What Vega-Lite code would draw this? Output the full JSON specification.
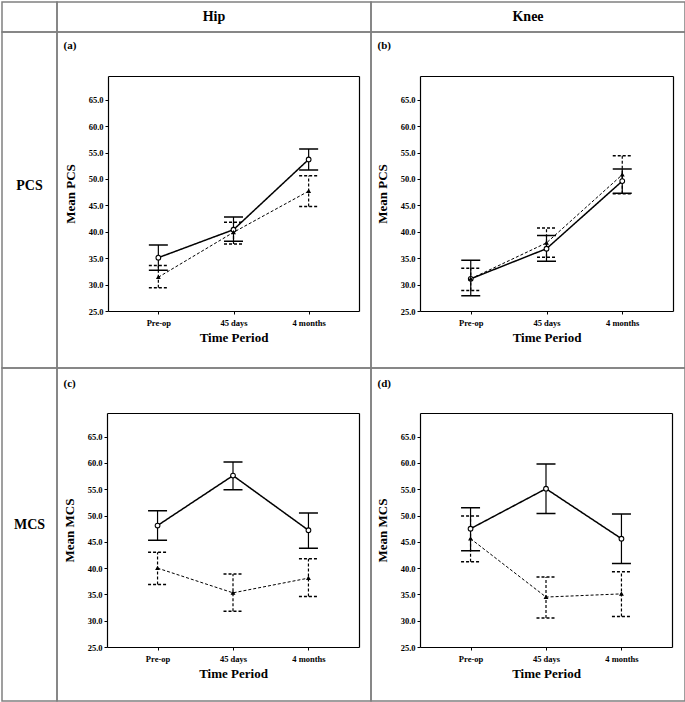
{
  "$schema": "https://vega.github.io/schema/vega-lite/v6.json",
  "padding": {"left": 1, "top": 1, "right": 0, "bottom": 0},
  "background": "white",
  "datasets": {
    "v": [
      {"panel": "a", "time": "Pre-op", "series": "s", "mean": 35.1, "lo": 32.7, "hi": 37.5},
      {"panel": "a", "time": "45 days", "series": "s", "mean": 40.4, "lo": 38.2, "hi": 42.8},
      {"panel": "a", "time": "4 months", "series": "s", "mean": 53.7, "lo": 51.7, "hi": 55.7},
      {"panel": "a", "time": "Pre-op", "series": "d", "mean": 31.4, "lo": 29.4, "hi": 33.6},
      {"panel": "a", "time": "45 days", "series": "d", "mean": 39.9, "lo": 37.7, "hi": 41.8},
      {"panel": "a", "time": "4 months", "series": "d", "mean": 47.7, "lo": 44.8, "hi": 50.6},
      {"panel": "b", "time": "Pre-op", "series": "s", "mean": 31.1, "lo": 27.9, "hi": 34.6},
      {"panel": "b", "time": "45 days", "series": "s", "mean": 36.8, "lo": 34.4, "hi": 39.3},
      {"panel": "b", "time": "4 months", "series": "s", "mean": 49.6, "lo": 47.3, "hi": 51.9},
      {"panel": "b", "time": "Pre-op", "series": "d", "mean": 31.1, "lo": 28.9, "hi": 33.1},
      {"panel": "b", "time": "45 days", "series": "d", "mean": 37.9, "lo": 35.2, "hi": 40.7},
      {"panel": "b", "time": "4 months", "series": "d", "mean": 50.8, "lo": 47.2, "hi": 54.4},
      {"panel": "c", "time": "Pre-op", "series": "s", "mean": 48.1, "lo": 45.3, "hi": 50.9},
      {"panel": "c", "time": "45 days", "series": "s", "mean": 57.6, "lo": 54.9, "hi": 60.2},
      {"panel": "c", "time": "4 months", "series": "s", "mean": 47.2, "lo": 43.8, "hi": 50.5},
      {"panel": "c", "time": "Pre-op", "series": "d", "mean": 40.0, "lo": 36.9, "hi": 43.0},
      {"panel": "c", "time": "45 days", "series": "d", "mean": 35.3, "lo": 31.8, "hi": 38.9},
      {"panel": "c", "time": "4 months", "series": "d", "mean": 38.1, "lo": 34.6, "hi": 41.8},
      {"panel": "d", "time": "Pre-op", "series": "s", "mean": 47.5, "lo": 43.3, "hi": 51.5},
      {"panel": "d", "time": "45 days", "series": "s", "mean": 55.1, "lo": 50.4, "hi": 59.8},
      {"panel": "d", "time": "4 months", "series": "s", "mean": 45.6, "lo": 40.9, "hi": 50.3},
      {"panel": "d", "time": "Pre-op", "series": "d", "mean": 45.6, "lo": 41.2, "hi": 49.9},
      {"panel": "d", "time": "45 days", "series": "d", "mean": 34.5, "lo": 30.5, "hi": 38.3},
      {"panel": "d", "time": "4 months", "series": "d", "mean": 35.1, "lo": 30.8, "hi": 39.3}
    ]
  },
  "columns": 3,
  "spacing": 0,
  "bounds": "flush",
  "align": "each",
  "concat": [
    {"width": 55, "height": 30, "data": {"values": [{"t": ""}]}, "mark": {"type": "text"}, "encoding": {"x": {"field": "t", "type": "nominal", "axis": null}, "y": {"field": "t", "type": "nominal", "axis": null}, "text": {"field": "t"}}},
    {"width": 314, "height": 30, "data": {"values": [{"t": "Hip"}]}, "mark": {"type": "text", "font": "Liberation Serif", "fontWeight": "bold", "fontSize": 14, "color": "black"}, "encoding": {"x": {"field": "t", "type": "nominal", "axis": null}, "y": {"field": "t", "type": "nominal", "axis": null}, "text": {"field": "t"}}},
    {"width": 314, "height": 30, "data": {"values": [{"t": "Knee"}]}, "mark": {"type": "text", "font": "Liberation Serif", "fontWeight": "bold", "fontSize": 14, "color": "black"}, "encoding": {"x": {"field": "t", "type": "nominal", "axis": null}, "y": {"field": "t", "type": "nominal", "axis": null}, "text": {"field": "t"}}},
    {"width": 55, "height": 336, "data": {"values": [{"t": "PCS"}]}, "mark": {"type": "text", "font": "Liberation Serif", "fontWeight": "bold", "fontSize": 14, "color": "black", "dy": -14}, "encoding": {"x": {"field": "t", "type": "nominal", "axis": null}, "y": {"field": "t", "type": "nominal", "axis": null}, "text": {"field": "t"}}},
    {
      "width": 314, "height": 336,
      "data": {"name": "v"},
      "transform": [{"filter": "datum.panel == 'a'"}],
      "resolve": {"axis": {"x": "independent", "y": "independent"}},
      "layer": [
        {"mark": {"type": "rule", "color": "black", "strokeWidth": 1.2},
         "encoding": {
           "x": {"field": "time", "type": "ordinal", "scale": {"type": "point", "domain": ["Pre-op", "45 days", "4 months"], "range": [51, 302], "padding": 0.67}, "axis": {"orient": "bottom", "offset": -57, "title": "Time Period", "labelAngle": 0, "labelPadding": 4, "titlePadding": 5}},
           "y": {"field": "lo", "type": "quantitative", "scale": {"domain": [25, 69.5], "range": [279, 44], "nice": false, "zero": false}, "axis": {"orient": "left", "offset": -51, "values": [25, 30, 35, 40, 45, 50, 55, 60, 65], "format": ".1f", "title": "Mean PCS", "titlePadding": 11}},
           "y2": {"field": "hi"},
           "strokeDash": {"field": "series", "type": "nominal", "scale": {"domain": ["s", "d"], "range": [[1, 0], [3, 2]]}, "legend": null}}},
        {"mark": {"type": "point", "shape": "M-1,0L1,0", "size": 361, "strokeWidth": 1.5, "color": "black", "filled": false, "opacity": 1},
         "encoding": {
           "x": {"field": "time", "type": "ordinal", "axis": {"orient": "top", "offset": -44, "ticks": false, "labels": false, "title": "(a)", "titleX": 6, "titleY": -31, "titleAlign": "left", "titleBaseline": "middle", "titleFontSize": 11, "titleAngle": 0}},
           "y": {"field": "hi", "type": "quantitative", "axis": {"orient": "right", "offset": -12, "ticks": false, "labels": false, "title": null}},
           "strokeDash": {"field": "series", "type": "nominal", "legend": null}}},
        {"mark": {"type": "point", "shape": "M-1,0L1,0", "size": 361, "strokeWidth": 1.5, "color": "black", "filled": false, "opacity": 1},
         "encoding": {
           "x": {"field": "time", "type": "ordinal", "axis": null},
           "y": {"field": "lo", "type": "quantitative", "axis": null},
           "strokeDash": {"field": "series", "type": "nominal", "legend": null}}},
        {"mark": {"type": "line", "color": "black"},
         "encoding": {
           "x": {"field": "time", "type": "ordinal", "sort": ["Pre-op", "45 days", "4 months"], "axis": null},
           "y": {"field": "mean", "type": "quantitative", "axis": null},
           "strokeDash": {"field": "series", "type": "nominal", "legend": null},
           "strokeWidth": {"field": "series", "type": "nominal", "scale": {"domain": ["s", "d"], "range": [1.5, 1]}, "legend": null}}},
        {"mark": {"type": "point", "filled": true, "stroke": "black", "strokeWidth": 1.1, "opacity": 1},
         "encoding": {
           "x": {"field": "time", "type": "ordinal", "axis": null},
           "y": {"field": "mean", "type": "quantitative", "axis": null},
           "shape": {"field": "series", "type": "nominal", "scale": {"domain": ["s", "d"], "range": ["circle", "triangle-up"]}, "legend": null},
           "fill": {"field": "series", "type": "nominal", "scale": {"domain": ["s", "d"], "range": ["white", "black"]}, "legend": null},
           "size": {"field": "series", "type": "nominal", "scale": {"domain": ["s", "d"], "range": [22, 9]}, "legend": null}}}
      ]
    },
    {
      "width": 314, "height": 336,
      "data": {"name": "v"},
      "transform": [{"filter": "datum.panel == 'b'"}],
      "resolve": {"axis": {"x": "independent", "y": "independent"}},
      "layer": [
        {"mark": {"type": "rule", "color": "black", "strokeWidth": 1.2},
         "encoding": {
           "x": {"field": "time", "type": "ordinal", "scale": {"type": "point", "domain": ["Pre-op", "45 days", "4 months"], "range": [49, 302], "padding": 0.67}, "axis": {"orient": "bottom", "offset": -57, "title": "Time Period", "labelAngle": 0, "labelPadding": 4, "titlePadding": 5}},
           "y": {"field": "lo", "type": "quantitative", "scale": {"domain": [25, 69.5], "range": [279, 44], "nice": false, "zero": false}, "axis": {"orient": "left", "offset": -49, "values": [25, 30, 35, 40, 45, 50, 55, 60, 65], "format": ".1f", "title": "Mean PCS", "titlePadding": 11}},
           "y2": {"field": "hi"},
           "strokeDash": {"field": "series", "type": "nominal", "scale": {"domain": ["s", "d"], "range": [[1, 0], [3, 2]]}, "legend": null}}},
        {"mark": {"type": "point", "shape": "M-1,0L1,0", "size": 361, "strokeWidth": 1.5, "color": "black", "filled": false, "opacity": 1},
         "encoding": {
           "x": {"field": "time", "type": "ordinal", "axis": {"orient": "top", "offset": -44, "ticks": false, "labels": false, "title": "(b)", "titleX": 6, "titleY": -31, "titleAlign": "left", "titleBaseline": "middle", "titleFontSize": 11, "titleAngle": 0}},
           "y": {"field": "hi", "type": "quantitative", "axis": {"orient": "right", "offset": -12, "ticks": false, "labels": false, "title": null}},
           "strokeDash": {"field": "series", "type": "nominal", "legend": null}}},
        {"mark": {"type": "point", "shape": "M-1,0L1,0", "size": 361, "strokeWidth": 1.5, "color": "black", "filled": false, "opacity": 1},
         "encoding": {
           "x": {"field": "time", "type": "ordinal", "axis": null},
           "y": {"field": "lo", "type": "quantitative", "axis": null},
           "strokeDash": {"field": "series", "type": "nominal", "legend": null}}},
        {"mark": {"type": "line", "color": "black"},
         "encoding": {
           "x": {"field": "time", "type": "ordinal", "sort": ["Pre-op", "45 days", "4 months"], "axis": null},
           "y": {"field": "mean", "type": "quantitative", "axis": null},
           "strokeDash": {"field": "series", "type": "nominal", "legend": null},
           "strokeWidth": {"field": "series", "type": "nominal", "scale": {"domain": ["s", "d"], "range": [1.5, 1]}, "legend": null}}},
        {"mark": {"type": "point", "filled": true, "stroke": "black", "strokeWidth": 1.1, "opacity": 1},
         "encoding": {
           "x": {"field": "time", "type": "ordinal", "axis": null},
           "y": {"field": "mean", "type": "quantitative", "axis": null},
           "shape": {"field": "series", "type": "nominal", "scale": {"domain": ["s", "d"], "range": ["circle", "triangle-up"]}, "legend": null},
           "fill": {"field": "series", "type": "nominal", "scale": {"domain": ["s", "d"], "range": ["white", "black"]}, "legend": null},
           "size": {"field": "series", "type": "nominal", "scale": {"domain": ["s", "d"], "range": [22, 9]}, "legend": null}}}
      ]
    },
    {"width": 55, "height": 333, "data": {"values": [{"t": "MCS"}]}, "mark": {"type": "text", "font": "Liberation Serif", "fontWeight": "bold", "fontSize": 14, "color": "black", "dy": -10}, "encoding": {"x": {"field": "t", "type": "nominal", "axis": null}, "y": {"field": "t", "type": "nominal", "axis": null}, "text": {"field": "t"}}},
    {
      "width": 314, "height": 333,
      "data": {"name": "v"},
      "transform": [{"filter": "datum.panel == 'c'"}],
      "resolve": {"axis": {"x": "independent", "y": "independent"}},
      "layer": [
        {"mark": {"type": "rule", "color": "black", "strokeWidth": 1.2},
         "encoding": {
           "x": {"field": "time", "type": "ordinal", "scale": {"type": "point", "domain": ["Pre-op", "45 days", "4 months"], "range": [50, 302], "padding": 0.67}, "axis": {"orient": "bottom", "offset": -54, "title": "Time Period", "labelAngle": 0, "labelPadding": 4, "titlePadding": 5}},
           "y": {"field": "lo", "type": "quantitative", "scale": {"domain": [25, 69.5], "range": [279, 45], "nice": false, "zero": false}, "axis": {"orient": "left", "offset": -50, "values": [25, 30, 35, 40, 45, 50, 55, 60, 65], "format": ".1f", "title": "Mean MCS", "titlePadding": 11}},
           "y2": {"field": "hi"},
           "strokeDash": {"field": "series", "type": "nominal", "scale": {"domain": ["s", "d"], "range": [[1, 0], [3, 2]]}, "legend": null}}},
        {"mark": {"type": "point", "shape": "M-1,0L1,0", "size": 361, "strokeWidth": 1.5, "color": "black", "filled": false, "opacity": 1},
         "encoding": {
           "x": {"field": "time", "type": "ordinal", "axis": {"orient": "top", "offset": -45, "ticks": false, "labels": false, "title": "(c)", "titleX": 6, "titleY": -30, "titleAlign": "left", "titleBaseline": "middle", "titleFontSize": 11, "titleAngle": 0}},
           "y": {"field": "hi", "type": "quantitative", "axis": {"orient": "right", "offset": -12, "ticks": false, "labels": false, "title": null}},
           "strokeDash": {"field": "series", "type": "nominal", "legend": null}}},
        {"mark": {"type": "point", "shape": "M-1,0L1,0", "size": 361, "strokeWidth": 1.5, "color": "black", "filled": false, "opacity": 1},
         "encoding": {
           "x": {"field": "time", "type": "ordinal", "axis": null},
           "y": {"field": "lo", "type": "quantitative", "axis": null},
           "strokeDash": {"field": "series", "type": "nominal", "legend": null}}},
        {"mark": {"type": "line", "color": "black"},
         "encoding": {
           "x": {"field": "time", "type": "ordinal", "sort": ["Pre-op", "45 days", "4 months"], "axis": null},
           "y": {"field": "mean", "type": "quantitative", "axis": null},
           "strokeDash": {"field": "series", "type": "nominal", "legend": null},
           "strokeWidth": {"field": "series", "type": "nominal", "scale": {"domain": ["s", "d"], "range": [1.5, 1]}, "legend": null}}},
        {"mark": {"type": "point", "filled": true, "stroke": "black", "strokeWidth": 1.1, "opacity": 1},
         "encoding": {
           "x": {"field": "time", "type": "ordinal", "axis": null},
           "y": {"field": "mean", "type": "quantitative", "axis": null},
           "shape": {"field": "series", "type": "nominal", "scale": {"domain": ["s", "d"], "range": ["circle", "triangle-up"]}, "legend": null},
           "fill": {"field": "series", "type": "nominal", "scale": {"domain": ["s", "d"], "range": ["white", "black"]}, "legend": null},
           "size": {"field": "series", "type": "nominal", "scale": {"domain": ["s", "d"], "range": [22, 9]}, "legend": null}}}
      ]
    },
    {
      "width": 314, "height": 333,
      "data": {"name": "v"},
      "transform": [{"filter": "datum.panel == 'd'"}],
      "resolve": {"axis": {"x": "independent", "y": "independent"}},
      "layer": [
        {"mark": {"type": "rule", "color": "black", "strokeWidth": 1.2},
         "encoding": {
           "x": {"field": "time", "type": "ordinal", "scale": {"type": "point", "domain": ["Pre-op", "45 days", "4 months"], "range": [49, 301], "padding": 0.67}, "axis": {"orient": "bottom", "offset": -54, "title": "Time Period", "labelAngle": 0, "labelPadding": 4, "titlePadding": 5}},
           "y": {"field": "lo", "type": "quantitative", "scale": {"domain": [25, 69.5], "range": [279, 45], "nice": false, "zero": false}, "axis": {"orient": "left", "offset": -49, "values": [25, 30, 35, 40, 45, 50, 55, 60, 65], "format": ".1f", "title": "Mean MCS", "titlePadding": 11}},
           "y2": {"field": "hi"},
           "strokeDash": {"field": "series", "type": "nominal", "scale": {"domain": ["s", "d"], "range": [[1, 0], [3, 2]]}, "legend": null}}},
        {"mark": {"type": "point", "shape": "M-1,0L1,0", "size": 361, "strokeWidth": 1.5, "color": "black", "filled": false, "opacity": 1},
         "encoding": {
           "x": {"field": "time", "type": "ordinal", "axis": {"orient": "top", "offset": -45, "ticks": false, "labels": false, "title": "(d)", "titleX": 6, "titleY": -30, "titleAlign": "left", "titleBaseline": "middle", "titleFontSize": 11, "titleAngle": 0}},
           "y": {"field": "hi", "type": "quantitative", "axis": {"orient": "right", "offset": -13, "ticks": false, "labels": false, "title": null}},
           "strokeDash": {"field": "series", "type": "nominal", "legend": null}}},
        {"mark": {"type": "point", "shape": "M-1,0L1,0", "size": 361, "strokeWidth": 1.5, "color": "black", "filled": false, "opacity": 1},
         "encoding": {
           "x": {"field": "time", "type": "ordinal", "axis": null},
           "y": {"field": "lo", "type": "quantitative", "axis": null},
           "strokeDash": {"field": "series", "type": "nominal", "legend": null}}},
        {"mark": {"type": "line", "color": "black"},
         "encoding": {
           "x": {"field": "time", "type": "ordinal", "sort": ["Pre-op", "45 days", "4 months"], "axis": null},
           "y": {"field": "mean", "type": "quantitative", "axis": null},
           "strokeDash": {"field": "series", "type": "nominal", "legend": null},
           "strokeWidth": {"field": "series", "type": "nominal", "scale": {"domain": ["s", "d"], "range": [1.5, 1]}, "legend": null}}},
        {"mark": {"type": "point", "filled": true, "stroke": "black", "strokeWidth": 1.1, "opacity": 1},
         "encoding": {
           "x": {"field": "time", "type": "ordinal", "axis": null},
           "y": {"field": "mean", "type": "quantitative", "axis": null},
           "shape": {"field": "series", "type": "nominal", "scale": {"domain": ["s", "d"], "range": ["circle", "triangle-up"]}, "legend": null},
           "fill": {"field": "series", "type": "nominal", "scale": {"domain": ["s", "d"], "range": ["white", "black"]}, "legend": null},
           "size": {"field": "series", "type": "nominal", "scale": {"domain": ["s", "d"], "range": [22, 9]}, "legend": null}}}
      ]
    }
  ],
  "config": {
    "view": {"stroke": "#808080", "strokeWidth": 1.5},
    "concat": {"spacing": 0},
    "axis": {
      "grid": false,
      "domainColor": "black",
      "domainWidth": 1.2,
      "tickColor": "black",
      "tickSize": 3,
      "tickWidth": 1,
      "labelColor": "black",
      "titleColor": "black",
      "labelFont": "Liberation Serif",
      "labelFontWeight": "bold",
      "labelFontSize": 8.5,
      "titleFont": "Liberation Serif",
      "titleFontWeight": "bold",
      "titleFontSize": 13,
      "labelOverlap": false,
      "labelFlush": false
    }
  }
}
